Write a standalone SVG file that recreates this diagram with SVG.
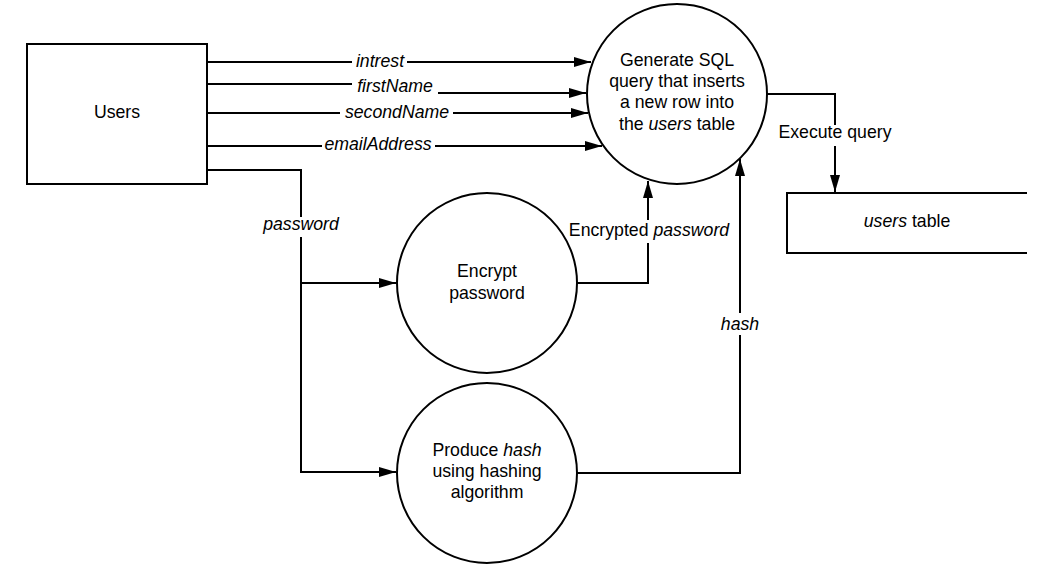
<svg xmlns="http://www.w3.org/2000/svg" width="1043" height="574" viewBox="0 0 1043 574">
<style>
.shape{fill:#fff;stroke:#000;stroke-width:2}
.conn{fill:none;stroke:#000;stroke-width:2}
.lbg{fill:#fff;stroke:none}
text{font-family:"Liberation Sans",Arial,sans-serif;font-size:17.7px;fill:#000;text-anchor:middle}
.it{font-style:italic}
</style>
<defs>
<marker id="arr" markerUnits="userSpaceOnUse" markerWidth="18" markerHeight="12" refX="17" refY="5" orient="auto">
<path d="M0,0 L17,5 L0,10 z" fill="#000"/>
</marker>
</defs>
<rect width="1043" height="574" fill="#fff"/>
<g id="connectors">
<path class="conn" d="M207,62 H591" marker-end="url(#arr)"/>
<path class="conn" d="M207,84 H395 V93 H586" marker-end="url(#arr)"/>
<path class="conn" d="M207,113 H588" marker-end="url(#arr)"/>
<path class="conn" d="M207,146 H602" marker-end="url(#arr)"/>
<path class="conn" d="M207,170 H301 V472 H396" marker-end="url(#arr)"/>
<path class="conn" d="M301,283 H396" marker-end="url(#arr)"/>
<path class="conn" d="M577,283 H648 V181" marker-end="url(#arr)"/>
<path class="conn" d="M577,473 H740 V159" marker-end="url(#arr)"/>
<path class="conn" d="M767,94 H835 V192" marker-end="url(#arr)"/>
<rect class="lbg" x="352" y="53" width="55" height="18"/>
<rect class="lbg" x="352" y="75" width="86" height="25"/>
<rect class="lbg" x="340" y="104" width="113" height="18"/>
<rect class="lbg" x="322" y="137" width="113" height="18"/>
<rect class="lbg" x="259" y="217" width="85" height="20"/>
<rect class="lbg" x="566" y="220" width="166" height="23"/>
<rect class="lbg" x="777" y="125" width="116" height="21"/>
<rect class="lbg" x="718" y="313" width="44" height="22"/>
<text class="it" x="380" y="67">intrest</text>
<text class="it" x="395" y="92">firstName</text>
<text class="it" x="397" y="118">secondName</text>
<text class="it" x="378" y="150">emailAddress</text>
<text class="it" x="301" y="230">password</text>
<text x="649" y="236">Encrypted <tspan class="it">password</tspan></text>
<text x="835" y="138">Execute query</text>
<text class="it" x="740" y="330">hash</text>
</g>
<g id="users">
<rect class="shape" x="27" y="44" width="180" height="140"/>
<text x="117" y="118">Users</text>
</g>
<g id="generate-sql">
<circle class="shape" cx="677" cy="94" r="90"/>
<text x="677" y="66">Generate SQL</text>
<text x="677" y="87">query that inserts</text>
<text x="677" y="108">a new row into</text>
<text x="677" y="130">the <tspan class="it">users</tspan> table</text>
</g>
<g id="encrypt-password">
<circle class="shape" cx="487" cy="283" r="90"/>
<text x="487" y="277">Encrypt</text>
<text x="487" y="299">password</text>
</g>
<g id="produce-hash">
<circle class="shape" cx="487" cy="473" r="90"/>
<text x="487" y="456">Produce <tspan class="it">hash</tspan></text>
<text x="487" y="477">using hashing</text>
<text x="487" y="498">algorithm</text>
</g>
<g id="users-table">
<rect x="787" y="193" width="240" height="60" fill="#fff" stroke="none"/>
<path class="conn" d="M1027,193 H787 V253 H1027"/>
<text x="907" y="227"><tspan class="it">users</tspan> table</text>
</g>
</svg>
